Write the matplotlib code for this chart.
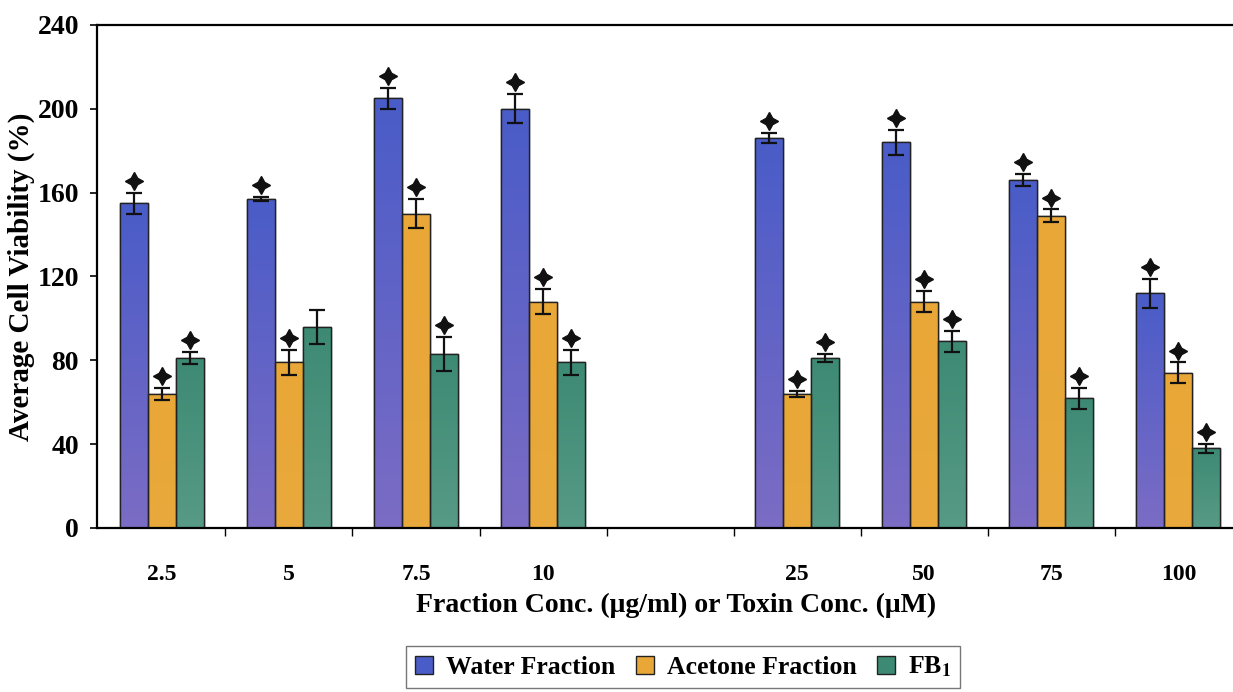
import matplotlib
matplotlib.use("Agg")
import matplotlib.pyplot as plt
import matplotlib.transforms as mtransforms
import numpy as np
from matplotlib.colors import LinearSegmentedColormap

plt.rcParams["font.family"] = ["Liberation Serif", "DejaVu Serif"]
plt.rcParams["font.weight"] = "bold"
plt.rcParams["axes.labelweight"] = "bold"
plt.rcParams["mathtext.fontset"] = "stix"

# concentrations (first four: fraction ug/ml, last four: toxin uM)
conc_labels = ["2.5", "5", "7.5", "10", "25", "50", "75", "100"]
slots = [0, 1, 2, 3, 5, 6, 7, 8]

water = [155, 157, 205, 200, 186, 184, 166, 112]
water_err = [5, 1, 5, 7, 2.5, 6, 3, 7]
acetone = [64, 79, 150, 108, 64, 108, 149, 74]
acetone_err = [3, 6, 7, 6, 1.5, 5, 3, 5]
fb1 = [81, 96, 83, 79, 81, 89, 62, 38]
fb1_err = [3, 8, 8, 6, 2, 5, 5, 2]

# significance markers per series
water_sig = [True, True, True, True, True, True, True, True]
acetone_sig = [True, True, True, True, True, True, True, True]
fb1_sig = [True, False, True, True, True, True, True, True]

series = [
    ("Water Fraction", water, water_err, water_sig, "#4a5cc8", "#7b6cc4"),
    ("Acetone Fraction", acetone, acetone_err, acetone_sig, "#e8a736", "#e9a93c"),
    ("FB$_\\mathbf{1}$", fb1, fb1_err, fb1_sig, "#3d8a74", "#579a85"),
]

fig = plt.figure(figsize=(12.33, 6.92), dpi=100)
ax = fig.add_axes([0.0787, 0.237, 0.9213, 0.727])

width = 0.22
x = np.array(slots, dtype=float)
star_tf = mtransforms.offset_copy(ax.transData, fig=fig, y=8.5, units="points")

handles = []
for i, (name, vals, errs, sig, c_top, c_bot) in enumerate(series):
    pos = x + (i - 1) * width
    bars = ax.bar(pos, vals, width, color=c_top, edgecolor="#222222",
                  linewidth=1.0, zorder=2, label=name)
    cmap = LinearSegmentedColormap.from_list(name, [c_bot, c_top])
    grad = np.linspace(0, 1, 64).reshape(-1, 1)
    for b in bars:
        bx, bw, bh = b.get_x(), b.get_width(), b.get_height()
        im = ax.imshow(grad, cmap=cmap, origin="lower", aspect="auto",
                       extent=(bx, bx + bw, 0, bh), zorder=2.1)
        im.set_clip_path(b)
    # redraw outlines above gradient
    ax.bar(pos, vals, width, fill=False, edgecolor="#222222",
           linewidth=1.0, zorder=2.2)
    ax.errorbar(pos, vals, yerr=errs, fmt="none", ecolor="#111111",
                elinewidth=1.6, capsize=6, capthick=1.6, zorder=3)
    tops = np.array(vals) + np.array(errs)
    sx = [p for p, s in zip(pos, sig) if s]
    sy = [t for t, s in zip(tops, sig) if s]
    ax.plot(sx, sy, linestyle="none", marker=(4, 1, 0), markersize=13,
            color="#111111", transform=star_tf, zorder=4)
    handles.append(bars)

ax.set_xlim(-0.51, 8.43)
ax.set_ylim(0, 240)
ax.set_yticks(range(0, 241, 40))
ax.tick_params(axis="y", labelsize=20, length=5, width=1.2, direction="out", pad=8)

# group boundary ticks, labels under each group
ax.set_xticks(np.arange(0.5, 8.5, 1.0))
ax.set_xticklabels([])
ax.tick_params(axis="x", which="major", length=6, width=1.0, direction="out")
ax.set_xticks(x, minor=True)
ax.set_xticklabels(conc_labels, minor=True, fontsize=17)
ax.tick_params(axis="x", which="minor", length=0, pad=26)

for side in ["left", "bottom", "top"]:
    ax.spines[side].set_linewidth(1.6)
ax.spines["right"].set_visible(False)

ax.set_ylabel("Average Cell Viability (%)", fontsize=21, labelpad=2)
fig.text(0.548, 0.125, "Fraction Conc. (\u03bcg/ml) or Toxin Conc. (\u03bcM)",
         ha="center", va="center", fontsize=20, fontweight="bold")

leg = fig.legend(handles=handles, loc="center", bbox_to_anchor=(0.554, 0.036),
                 ncol=3, fontsize=18.5, frameon=True, fancybox=False,
                 handlelength=0.7, handleheight=0.7, handletextpad=0.5,
                 columnspacing=0.8, borderpad=0.35)
leg.get_frame().set_edgecolor("#555555")
leg.get_frame().set_linewidth(1.0)

fig.savefig("out.png", dpi=100)
